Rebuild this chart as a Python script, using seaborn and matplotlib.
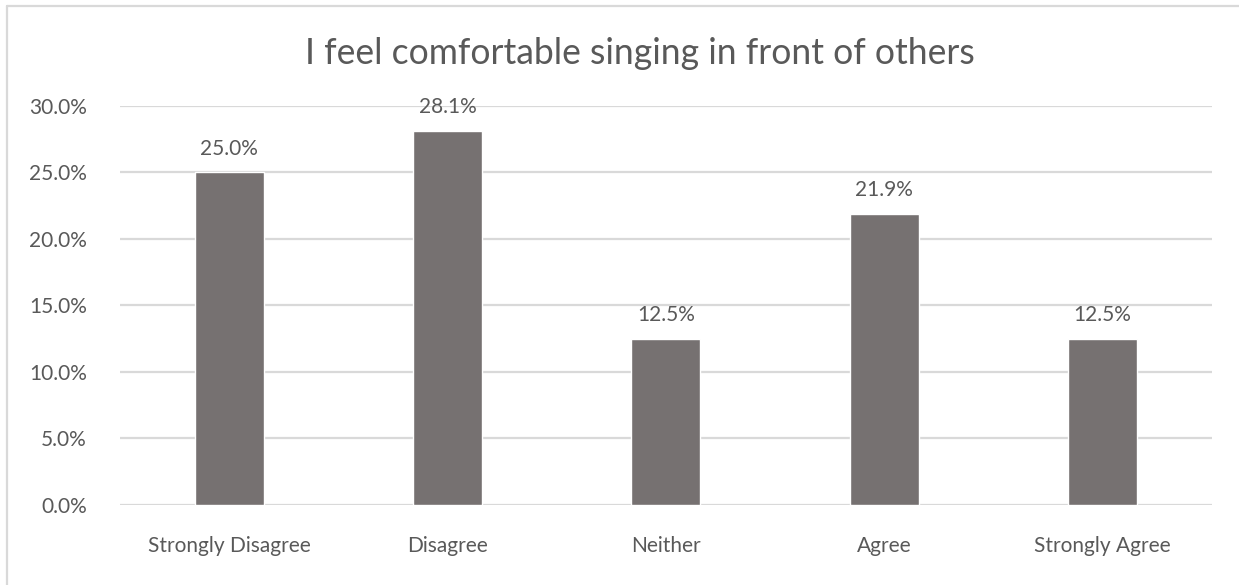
import matplotlib
matplotlib.use("Agg")
import matplotlib.pyplot as plt
import seaborn as sns
import pandas as pd
from matplotlib.lines import Line2D
from matplotlib.ticker import FuncFormatter

categories = ["Strongly Disagree", "Disagree", "Neither", "Agree", "Strongly Agree"]
percentages = [25.0, 28.1, 12.5, 21.9, 12.5]
y_ticks = [0, 5, 10, 15, 20, 25, 30]
title = "I feel comfortable singing in front of others"

BAR = "#767171"
TEXT = "#595959"
GRID = "#D9D9D9"

sns.set_theme(style="white")
plt.rcParams["font.family"] = ["Lato", "DejaVu Sans"]

df = pd.DataFrame({"response": categories, "pct": percentages})

fig = plt.figure(figsize=(12.39, 5.85), dpi=100)
ax = fig.add_axes([0.0969, 0.1368, 0.978 - 0.0969, 0.8188 - 0.1368])

sns.barplot(data=df, x="response", y="pct", color=BAR, width=0.316,
            saturation=1, ax=ax, zorder=3)

ax.set_ylim(0, 30)
ax.set_xlim(-0.5, len(categories) - 0.5)
ax.set_yticks(y_ticks)
ax.yaxis.set_major_formatter(FuncFormatter(lambda v, _: f"{v:.1f}%"))
ax.grid(axis="y", color=GRID, linewidth=1.6, zorder=0)
ax.set_axisbelow(True)
for s in ax.spines.values():
    s.set_visible(False)
ax.tick_params(axis="both", length=0, colors=TEXT, labelsize=15)
ax.tick_params(axis="y", pad=24)
ax.tick_params(axis="x", pad=22)
ax.set_xlabel("")
ax.set_ylabel("")

for i, v in enumerate(percentages):
    ax.annotate(f"{v:.1f}%", (i, v), xytext=(0, 10), textcoords="offset points",
                ha="center", va="bottom", color=TEXT, fontsize=15)

fig.text(0.5165, 0.908, title, ha="center", va="center", color=TEXT,
         fontsize=25.6, fontweight="normal")

# chart frame: left and top edges
fig.add_artist(Line2D([7 / 1239, 7 / 1239], [0, 1 - 6 / 585], transform=fig.transFigure,
                      color=GRID, linewidth=1.6))
fig.add_artist(Line2D([7 / 1239, 1], [1 - 6 / 585, 1 - 6 / 585], transform=fig.transFigure,
                      color=GRID, linewidth=1.6))

fig.savefig("out.png", dpi=100, facecolor="white")
